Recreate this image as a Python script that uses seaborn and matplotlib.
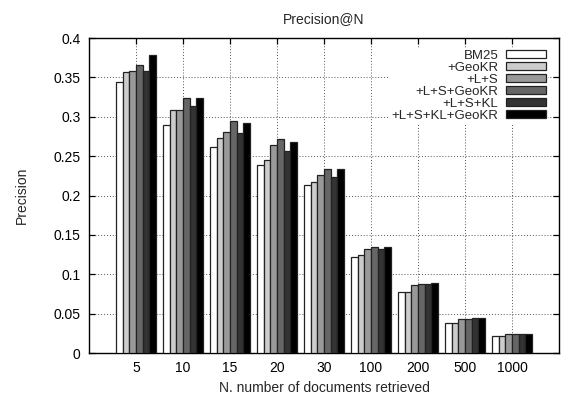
import matplotlib
matplotlib.use("Agg")
import matplotlib.pyplot as plt
import seaborn as sns
import pandas as pd

# Precision at different cutoffs for each retrieval configuration
cutoffs = ["5", "10", "15", "20", "30", "100", "200", "500", "1000"]
methods = ["BM25", "+GeoKR", "+L+S", "+L+S+GeoKR", "+L+S+KL", "+L+S+KL+GeoKR"]

bm25 = [0.344, 0.289, 0.262, 0.239, 0.213, 0.122, 0.077, 0.038, 0.0216]
geokr = [0.357, 0.308, 0.273, 0.245, 0.217, 0.124, 0.078, 0.038, 0.0216]
ls = [0.358, 0.309, 0.281, 0.264, 0.226, 0.132, 0.086, 0.043, 0.024]
ls_geokr = [0.366, 0.324, 0.294, 0.272, 0.234, 0.134, 0.088, 0.043, 0.024]
ls_kl = [0.358, 0.314, 0.279, 0.256, 0.224, 0.132, 0.088, 0.044, 0.024]
ls_kl_geokr = [0.378, 0.324, 0.292, 0.268, 0.234, 0.135, 0.089, 0.044, 0.0236]

series = [bm25, geokr, ls, ls_geokr, ls_kl, ls_kl_geokr]
fills = ["#ffffff", "#cccccc", "#999999", "#666666", "#333333", "#000000"]

rows = []
for m, vals in zip(methods, series):
    for c, v in zip(cutoffs, vals):
        rows.append({"N": c, "Precision": v, "method": m})
df = pd.DataFrame(rows)

sns.set_style("ticks")
plt.rcParams["font.family"] = ["Liberation Sans", "DejaVu Sans"]
fs = 10

fig = plt.figure(figsize=(5.66, 3.98), dpi=100)
ax = fig.add_axes([0.1572, 0.113, 0.8304, 0.7915])

sns.barplot(data=df, x="N", y="Precision", hue="method", order=cutoffs,
            hue_order=methods, palette=fills, edgecolor="#222222",
            linewidth=0.9, width=0.85, gap=0, saturation=1, ax=ax,
            errorbar=None, legend=False, zorder=3)

ax.set_xlim(-1, 9)
ax.set_ylim(0, 0.4)
ax.set_yticks([0, 0.05, 0.1, 0.15, 0.2, 0.25, 0.3, 0.35, 0.4])
ax.set_yticklabels(["0", "0.05", "0.1", "0.15", "0.2", "0.25", "0.3", "0.35", "0.4"])

ax.set_axisbelow(True)
ax.grid(True, color="#555555", linestyle=(0, (1, 2)), linewidth=0.7)
ax.tick_params(direction="in", top=True, right=True, length=4,
               width=0.9, labelsize=fs, colors="black", pad=6)
for s in ax.spines.values():
    s.set_color("black")
    s.set_linewidth(1.0)

ax.set_title("Precision@N", fontsize=fs, pad=11)
ax.set_xlabel("N. number of documents retrieved", fontsize=fs, labelpad=4)
ax.set_ylabel("Precision", fontsize=fs, labelpad=18)

handles = [plt.Rectangle((0, 0), 1, 1, facecolor=f, edgecolor="#222222",
                         linewidth=0.9) for f in fills]
leg = ax.legend(handles, methods, loc="upper right", markerfirst=False,
                frameon=True, fancybox=False, framealpha=1,
                edgecolor="none", facecolor="white", fontsize=9.5,
                handlelength=3.0, handleheight=0.5, labelspacing=0.0,
                handletextpad=0.6, borderpad=0.15,
                bbox_to_anchor=(0.99, 0.99))
for t in leg.get_texts():
    t.set_ha("right")
leg.set_zorder(5)

fig.savefig("out.png", dpi=100)
